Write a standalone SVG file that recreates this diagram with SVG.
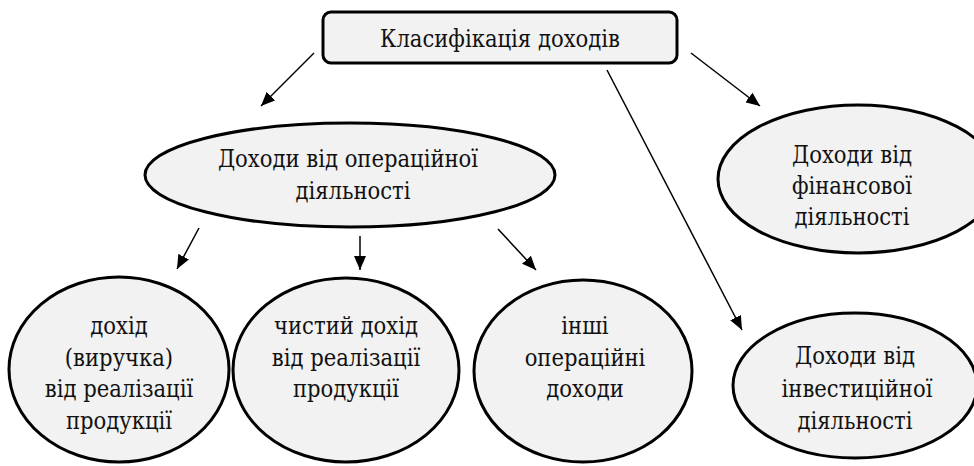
<svg xmlns="http://www.w3.org/2000/svg" width="974" height="466" viewBox="0 0 974 466">
<defs>
<marker id="arr" markerUnits="userSpaceOnUse" markerWidth="15" markerHeight="12" refX="14" refY="6" orient="auto">
<path d="M0,0 L14,6 L0,12 z" fill="#000"/>
</marker>
<style>
.shape{fill:#f2f2f2;stroke:#000;stroke-width:3}
.t{font-family:'DejaVu Serif','Liberation Serif',serif;font-stretch:semi-condensed;font-size:23.5px;fill:#111;text-anchor:middle}
.c{stroke:#000;stroke-width:1.5;fill:none;marker-end:url(#arr)}
</style>
</defs>
<rect width="974" height="466" fill="#fff"/>
<g id="connectors">
<line class="c" x1="314" y1="53" x2="261" y2="106"/>
<line class="c" x1="691" y1="53" x2="760" y2="106"/>
<line class="c" x1="607" y1="70" x2="742" y2="330"/>
<line class="c" x1="199" y1="228" x2="177" y2="269"/>
<line class="c" x1="360" y1="236" x2="360" y2="270"/>
<line class="c" x1="498" y1="229" x2="536" y2="270"/>
</g>
<g id="root">
<rect class="shape" x="323" y="12" width="354" height="51" rx="8"/>
<text class="t" x="500" y="47">Класифікація доходів</text>
</g>
<g id="operational">
<ellipse class="shape" cx="350" cy="175" rx="205" ry="52"/>
<text class="t" x="348" y="167">Доходи від операційної</text>
<text class="t" x="353" y="199">діяльності</text>
</g>
<g id="financial">
<ellipse class="shape" cx="858" cy="179" rx="140" ry="74"/>
<text class="t" x="852" y="163">Доходи від</text>
<text class="t" x="852" y="194">фінансової</text>
<text class="t" x="852" y="225">діяльності</text>
</g>
<g id="investment">
<ellipse class="shape" cx="855" cy="385.5" rx="122" ry="72.5"/>
<text class="t" x="855" y="364">Доходи від</text>
<text class="t" x="857" y="397">інвестиційної</text>
<text class="t" x="855" y="429">діяльності</text>
</g>
<g id="revenue">
<ellipse class="shape" cx="119" cy="369.5" rx="110" ry="92.5"/>
<text class="t" x="119" y="334">дохід</text>
<text class="t" x="119" y="366">(виручка)</text>
<text class="t" x="119" y="397">від реалізації</text>
<text class="t" x="119" y="429">продукції</text>
</g>
<g id="net-revenue">
<ellipse class="shape" cx="346" cy="370" rx="113" ry="92"/>
<text class="t" x="346" y="334">чистий дохід</text>
<text class="t" x="346" y="366">від реалізації</text>
<text class="t" x="346" y="397">продукції</text>
</g>
<g id="other">
<ellipse class="shape" cx="583" cy="371" rx="109" ry="91"/>
<text class="t" x="585" y="334">інші</text>
<text class="t" x="585" y="366">операційні</text>
<text class="t" x="585" y="397">доходи</text>
</g>
</svg>
